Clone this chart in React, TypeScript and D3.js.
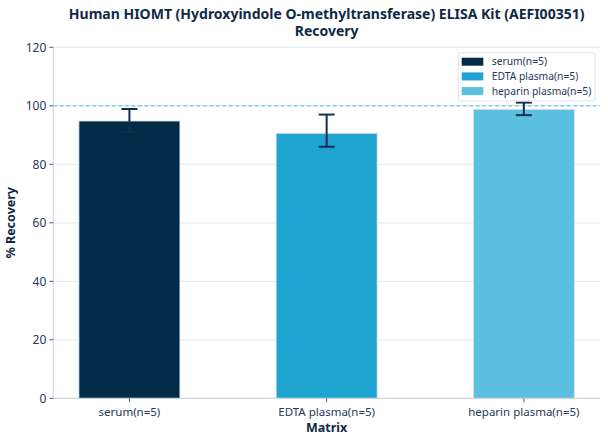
import * as d3 from "d3";
import React from "react";

const categories = ["serum(n=5)", "EDTA plasma(n=5)", "heparin plasma(n=5)"];
const recovery = [94.8, 90.6, 98.8];
const errLow = [91, 86, 96.8];
const errHigh = [98.9, 97, 101.1];
const colors = ["#022b4a", "#1fa4d2", "#5bbfdf"];
const yTicks = [0, 20, 40, 60, 80, 100, 120];

const W = 608;
const H = 444;
const margin = { top: 47.3, right: 8, bottom: 45.7, left: 53.3 };
const font = "'Noto Sans', 'Open Sans', sans-serif";
const textColor = "#23395b";
const titleColor = "#0f2a47";

const App: React.FC = () => {
	const innerW = W - margin.left - margin.right;
	const innerH = H - margin.top - margin.bottom;

	const x = d3
		.scaleBand()
		.domain(categories)
		.range([0, innerW])
		.paddingInner(0.488)
		.paddingOuter(0.13);

	const y = d3.scaleLinear().domain([0, 120]).range([innerH, 0]);

	const capW = 16;

	return (
		<svg
			width={W}
			height={H}
			style={{ position: "absolute", left: 0, top: 0, fontFamily: font }}>
			<rect width={W} height={H} fill="#ffffff" />
			<text
				x={margin.left + innerW / 2}
				y={19.3}
				textAnchor="middle"
				fontSize={14}
				fontWeight="bold"
				fill={titleColor}>
				Human HIOMT (Hydroxyindole O-methyltransferase) ELISA Kit (AEFI00351)
			</text>
			<text
				x={margin.left + innerW / 2}
				y={35.5}
				textAnchor="middle"
				fontSize={14}
				fontWeight="bold"
				fill={titleColor}>
				Recovery
			</text>

			<g transform={`translate(${margin.left}, ${margin.top})`}>
				{/* grid */}
				{yTicks.map((t) => (
					<line
						key={t}
						x1={0}
						x2={innerW}
						y1={y(t)}
						y2={y(t)}
						stroke="#e6ecf3"
						strokeWidth={1.2}
					/>
				))}

				{/* 100% reference */}
				<line
					x1={0}
					x2={innerW}
					y1={y(100)}
					y2={y(100)}
					stroke="#5bbfdf"
					strokeWidth={1}
					strokeDasharray="4,2.5"
				/>

				{/* bars */}
				{recovery.map((v, i) => (
					<rect
						key={i}
						x={x(categories[i]) || 0}
						y={y(v)}
						width={x.bandwidth()}
						height={innerH - y(v)}
						fill={colors[i]}
						stroke="#dbe4ee"
						strokeWidth={0.8}
					/>
				))}

				{/* error bars */}
				{recovery.map((v, i) => {
					const cx = (x(categories[i]) || 0) + x.bandwidth() / 2;
					return (
						<g key={i} stroke="#132f4c" strokeWidth={2}>
							<line x1={cx} x2={cx} y1={y(errLow[i])} y2={y(errHigh[i])} />
							<line
								x1={cx - capW / 2}
								x2={cx + capW / 2}
								y1={y(errHigh[i])}
								y2={y(errHigh[i])}
							/>
							<line
								x1={cx - capW / 2}
								x2={cx + capW / 2}
								y1={y(errLow[i])}
								y2={y(errLow[i])}
							/>
						</g>
					);
				})}

				{/* axes */}
				<line x1={0} x2={0} y1={0} y2={innerH} stroke="#c9d3de" strokeWidth={1} />
				<line
					x1={0}
					x2={innerW}
					y1={innerH}
					y2={innerH}
					stroke="#c9d3de"
					strokeWidth={1}
				/>
				{yTicks.map((t) => (
					<g key={t} transform={`translate(0, ${y(t)})`}>
						<line x1={-4} x2={0} stroke="#4a5f7a" strokeWidth={1} />
						<text
							x={-7}
							dy="0.35em"
							textAnchor="end"
							fontSize={12}
							fill={textColor}>
							{t}
						</text>
					</g>
				))}
				{categories.map((c) => (
					<g
						key={c}
						transform={`translate(${(x(c) || 0) + x.bandwidth() / 2}, ${innerH})`}>
						<line y1={0} y2={4} stroke="#4a5f7a" strokeWidth={1} />
						<text y={17.5} textAnchor="middle" fontSize={11.5} fill={textColor}>
							{c}
						</text>
					</g>
				))}

				<text
					x={innerW / 2}
					y={innerH + 34}
					textAnchor="middle"
					fontSize={12.5}
					fontWeight="bold"
					fill={titleColor}>
					Matrix
				</text>
				<text
					transform={`translate(${-38}, ${innerH / 2}) rotate(-90)`}
					textAnchor="middle"
					fontSize={12.5}
					fontWeight="bold"
					fill={titleColor}>
					% Recovery
				</text>

				{/* legend */}
				<g transform={`translate(${458.3 - margin.left}, ${52.7 - margin.top})`}>
					<rect
						width={136.7}
						height={48.3}
						rx={2}
						fill="#ffffff"
						fillOpacity={0.9}
						stroke="#dfe5ec"
						strokeWidth={1}
					/>
					{categories.map((c, i) => (
						<g key={c} transform={`translate(3.4, ${9 + i * 14.7})`}>
							<rect y={-4} width={21.6} height={8} fill={colors[i]} />
							<text x={30} dy="0.35em" fontSize={10.3} fill={textColor}>
								{c}
							</text>
						</g>
					))}
				</g>
			</g>
		</svg>
	);
};

export default App;
